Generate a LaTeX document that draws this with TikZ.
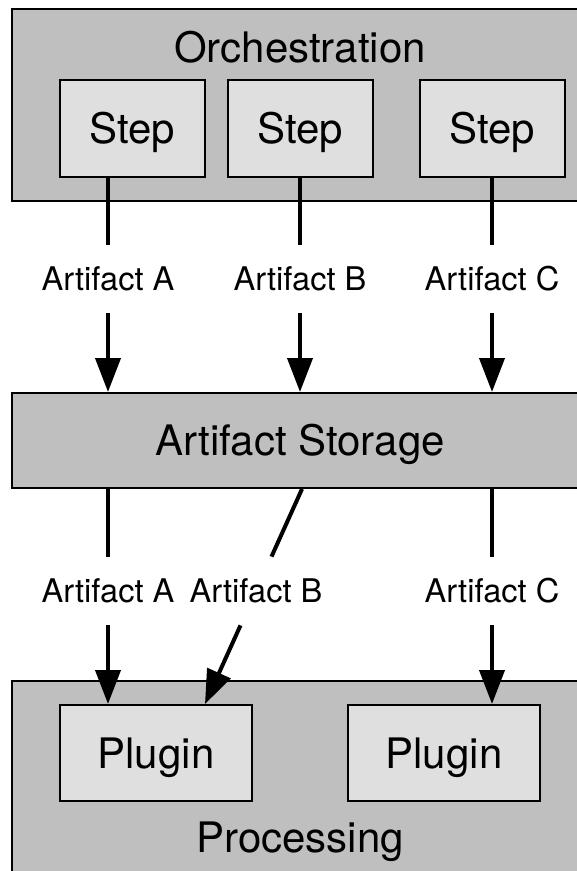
\documentclass[tikz,border=0pt]{standalone}
\usepackage{fontspec}
\setmainfont{TeX Gyre Heros}
\usetikzlibrary{arrows.meta}

\definecolor{boxgray}{RGB}{191,191,191}
\definecolor{itemgray}{RGB}{223,223,223}
\newcommand\boxfont{\fontsize{21pt}{25pt}\selectfont}
\newcommand\edgefont{\fontsize{16.3pt}{19pt}\selectfont}

\begin{document}
\begin{tikzpicture}[x=0.5pt, y=-0.5pt, >={Triangle[length=17pt, width=12.5pt]},
  group/.style={draw, fill=boxgray, line width=1pt, minimum width=288pt, inner sep=0pt},
  item/.style={draw, fill=itemgray, line width=1pt, inner sep=0pt, font=\boxfont, text height=15pt, text depth=0pt},
  tag/.style={inner sep=1pt, minimum height=34pt, font=\edgefont, text height=11.7pt, text depth=0pt},
  flow/.style={line width=2pt}]
\clip (0,0) rectangle (577,871);
% containers
\node[group, minimum height=96pt] (orch) at (300,105) {};
\node[font=\boxfont, anchor=base] (orchlbl) at (300,63) {Orchestration};
\node[group, minimum height=47.5pt, font=\boxfont, text height=15pt, text depth=0pt] (store) at (300,440.5) {Artifact Storage};
\node[group, minimum height=110pt] (proc) at (300,791) {};
\node[font=\boxfont, anchor=base] (proclbl) at (300,852) {Processing};
% steps and plugins
\node[item, minimum width=72.5pt, minimum height=48.5pt] (s1) at (132.25,128.5) {Step};
\node[item, minimum width=72.5pt, minimum height=48.5pt] (s2) at (300.5,128.5) {Step};
\node[item, minimum width=72.5pt, minimum height=48.5pt] (s3) at (492.5,128.5) {Step};
\node[item, minimum width=96pt, minimum height=48pt] (p1) at (156,753) {Plugin};
\node[item, minimum width=96pt, minimum height=48pt] (p2) at (444,753) {Plugin};
% artifact labels
\node[tag] (a1) at (108,279) {Artifact A};
\node[tag] (b1) at (300,279) {Artifact B};
\node[tag] (c1) at (492,279) {Artifact C};
\node[tag] (a2) at (108,591) {Artifact A};
\node[tag] (b2) at (256,591) {Artifact B};
\node[tag] (c2) at (492,591) {Artifact C};
% steps -> storage
\draw[flow] (a1 |- s1.south) -- (a1);
\draw[flow, ->] (a1) -- (a1 |- store.north);
\draw[flow] (b1 |- s2.south) -- (b1);
\draw[flow, ->] (b1) -- (b1 |- store.north);
\draw[flow] (c1 |- s3.south) -- (c1);
\draw[flow, ->] (c1) -- (c1 |- store.north);
% storage -> plugins
\draw[flow] (a2 |- store.south) -- (a2);
\draw[flow, ->] (a2) -- (a2 |- p1.north);
\draw[flow] ([xshift=1pt]store.south) -- (b2);
\draw[flow, ->] (b2) -- ([xshift=24.5pt]p1.north);
\draw[flow] (c2 |- store.south) -- (c2);
\draw[flow, ->] (c2) -- (c2 |- p2.north);
\end{tikzpicture}
\end{document}
